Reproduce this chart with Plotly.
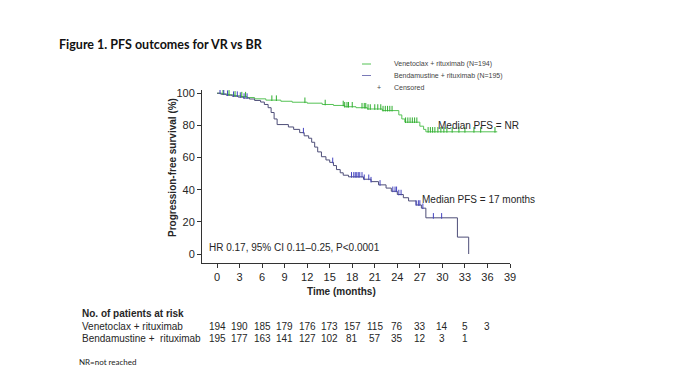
import plotly.graph_objects as go
import numpy as np

# ---------------- data ----------------
vr_time = [0, 0.7, 1.5, 2.3, 3.2, 4.0, 5.0, 6.5, 8.5, 10.0, 12.0, 14.0, 15.5, 17.0,
           18.5, 20.0, 22.0, 24.2, 24.6, 25.0, 27.0, 27.5, 27.8]
vr_surv = [100, 99.5, 99.0, 98.4, 97.9, 97.3, 96.5, 95.7, 95.0, 94.4, 93.8, 93.0, 92.4, 91.6,
           91.0, 90.2, 89.2, 86.5, 84.0, 82.0, 79.5, 77.5, 76.0]
vr_end = 37.3
vr_censor = [0.8, 1.6, 2.4, 3.3, 3.8, 7.3, 7.9, 11.7, 14.4, 16.8, 17.0, 17.3, 17.5, 18.0,
             19.3, 19.6, 19.8, 20.1, 20.4, 21.0, 21.4, 21.8, 22.1, 22.4, 22.7, 23.0, 23.3,
             25.1, 25.4, 25.7, 26.0, 26.3, 26.6, 28.1, 28.4, 28.7, 29.0, 29.4, 29.8, 30.2,
             30.6, 31.3, 32.2, 33.0, 34.2, 35.1, 37.0]

br_time = [0, 0.5, 1.2, 2.0, 2.8, 3.5, 4.3, 5.0, 5.8, 6.3, 6.8, 7.2, 7.6, 8.0, 9.5, 10.2,
           11.0, 11.6, 12.2, 12.6, 13.0, 13.4, 13.9, 14.5, 15.0, 15.5, 15.9, 16.4, 16.8,
           17.5, 19.5, 20.5, 21.5, 22.5, 23.2, 24.0, 24.8, 25.5, 26.5, 27.2, 27.8, 32.0, 33.5]
br_surv = [100, 99.4, 98.8, 98.2, 97.6, 97.0, 96.4, 95.5, 94.5, 93.0, 91.0, 88.0, 84.0, 80.5,
           79.0, 77.5, 75.5, 73.5, 72.0, 69.5, 66.5, 63.5, 60.5, 58.5, 57.0, 55.0, 52.5,
           50.5, 49.0, 48.0, 46.5, 45.0, 43.0, 41.0, 39.0, 37.0, 35.0, 33.0, 30.5, 28.5,
           22.5, 10.5, 0]
br_censor = [0.4, 0.9, 1.4, 2.2, 2.7, 3.1, 3.6, 4.0, 11.5, 15.4, 17.9, 18.2, 18.4, 18.6,
             18.8, 19.0, 19.3, 19.6, 20.2, 20.5, 21.7, 23.4, 23.7, 23.9, 24.2, 24.5, 26.5,
             26.8, 27.0, 27.4, 28.8, 29.9]

risk_months = [0, 3, 6, 9, 12, 15, 18, 21, 24, 27, 30, 33, 36]
vr_risk = [194, 190, 185, 179, 176, 173, 157, 115, 76, 33, 14, 5, 3]
br_risk = [195, 177, 163, 141, 127, 102, 81, 57, 35, 12, 3, 1]

x_ticks = list(range(0, 40, 3))
y_ticks = [0, 20, 40, 60, 80, 100]

# ---------------- styling ----------------
OFF = 8  # page body margin
W, H = 682, 375
L, T = 202 - OFF, 90 - OFF
R, B = W - (510 - OFF), H - (263 - OFF)
PW, PH = W - L - R, H - T - B
GREEN_LINE = "#55c255"
GREEN_MARK = "#2fae2f"
BLUE_LINE = "#4e4e78"
BLUE_MARK = "#4444c0"
TXT = "#262626"
FONT = "Liberation Sans, Arial, sans-serif"


def px_x(px):
    return (px - OFF - L) / PW


def px_y(py):
    return (H - B - (py - OFF)) / PH


def step_val(times, surv, t):
    idx = np.searchsorted(np.array(times), t, side="right") - 1
    return surv[max(idx, 0)]


fig = go.Figure()

fig.add_trace(go.Scatter(x=vr_time + [vr_end], y=vr_surv + [vr_surv[-1]], mode="lines",
                         line=dict(color=GREEN_LINE, width=1, shape="hv"), hoverinfo="skip"))
fig.add_trace(go.Scatter(x=br_time, y=br_surv, mode="lines",
                         line=dict(color=BLUE_LINE, width=1, shape="hv"), hoverinfo="skip"))

vr_cy = [step_val(vr_time, vr_surv, t) + 1.2 for t in vr_censor]
br_cy = [step_val(br_time, br_surv, t) + 1.2 for t in br_censor]
fig.add_trace(go.Scatter(x=vr_censor, y=vr_cy, mode="markers",
                         marker=dict(symbol="line-ns", size=4, line=dict(color=GREEN_MARK, width=1)),
                         hoverinfo="skip"))
fig.add_trace(go.Scatter(x=br_censor, y=br_cy, mode="markers",
                         marker=dict(symbol="line-ns", size=4, line=dict(color=BLUE_MARK, width=1)),
                         hoverinfo="skip"))

ann = []
# title
ann.append(dict(text="<b>Figure 1. PFS outcomes for VR vs BR</b>", x=px_x(57), y=px_y(44),
                xref="paper", yref="paper", xanchor="left", yanchor="middle", showarrow=False,
                font=dict(family="Lato, Carlito, sans-serif", size=12.5, color="#111")))
# axis titles
ann.append(dict(text="<b>Progression-free survival (%)</b>", x=px_x(172), y=px_y(168),
                xref="paper", yref="paper", xanchor="center", yanchor="middle", textangle=-90,
                showarrow=False, font=dict(family=FONT, size=10, color=TXT)))
ann.append(dict(text="<b>Time (months)</b>", x=px_x(341), y=px_y(291),
                xref="paper", yref="paper", xanchor="center", yanchor="middle",
                showarrow=False, font=dict(family=FONT, size=10, color=TXT)))
# in-plot labels
ann.append(dict(text="Median PFS = NR", x=px_x(436), y=px_y(125), xref="paper", yref="paper",
                xanchor="left", yanchor="middle", showarrow=False,
                font=dict(family=FONT, size=10, color=TXT)))
ann.append(dict(text="Median PFS = 17 months", x=px_x(420), y=px_y(199), xref="paper", yref="paper",
                xanchor="left", yanchor="middle", showarrow=False,
                font=dict(family=FONT, size=10, color=TXT)))
ann.append(dict(text="HR 0.17, 95% CI 0.11–0.25, P<0.0001", x=px_x(207), y=px_y(247),
                xref="paper", yref="paper", xanchor="left", yanchor="middle", showarrow=False,
                font=dict(family=FONT, size=10, color=TXT)))
# legend
legend_rows = [("Venetoclax + rituximab (N=194)", GREEN_LINE, 64),
               ("Bendamustine + rituximab (N=195)", "#7a7ab8", 75.5)]
shapes = []
for label, col, yy in legend_rows:
    shapes.append(dict(type="line", xref="paper", yref="paper", x0=px_x(362), x1=px_x(371),
                       y0=px_y(yy), y1=px_y(yy), line=dict(color=col, width=1)))
    ann.append(dict(text=label, x=px_x(392), y=px_y(yy), xref="paper", yref="paper",
                    xanchor="left", yanchor="middle", showarrow=False,
                    font=dict(family=FONT, size=7, color="#444")))
ann.append(dict(text="+", x=px_x(379), y=px_y(87), xref="paper", yref="paper",
                xanchor="center", yanchor="middle", showarrow=False,
                font=dict(family=FONT, size=7, color="#444")))
ann.append(dict(text="Censored", x=px_x(392), y=px_y(87), xref="paper", yref="paper",
                xanchor="left", yanchor="middle", showarrow=False,
                font=dict(family=FONT, size=7, color="#444")))
# risk table
ann.append(dict(text="<b>No. of patients at risk</b>", x=px_x(80), y=px_y(313), xref="paper",
                yref="paper", xanchor="left", yanchor="middle", showarrow=False,
                font=dict(family=FONT, size=10, color=TXT)))
for label, vals, yy in [("Venetoclax + rituximab", vr_risk, 326),
                        ("Bendamustine +  rituximab", br_risk, 338)]:
    ann.append(dict(text=label, x=px_x(80), y=px_y(yy), xref="paper", yref="paper",
                    xanchor="left", yanchor="middle", showarrow=False,
                    font=dict(family=FONT, size=10, color=TXT)))
    for m, v in zip(risk_months, vals):
        ann.append(dict(text=str(v), x=m, y=px_y(yy), xref="x", yref="paper",
                        xanchor="center", yanchor="middle", showarrow=False,
                        font=dict(family=FONT, size=10, color=TXT)))
ann.append(dict(text="NR=not reached", x=px_x(77), y=px_y(362), xref="paper", yref="paper",
                xanchor="left", yanchor="middle", showarrow=False,
                font=dict(family="Lato, Carlito, sans-serif", size=8, color="#222")))

fig.update_layout(
    width=W, height=H, margin=dict(l=L, r=R, t=T, b=B),
    paper_bgcolor="white", plot_bgcolor="white", showlegend=False,
    annotations=ann, shapes=shapes,
    font=dict(family=FONT, size=11, color=TXT),
)
fig.update_xaxes(range=[-2.0, 39.0], tickvals=x_ticks, showgrid=False, zeroline=False,
                 showline=True, linecolor="#333", linewidth=1, ticks="outside", ticklen=4,
                 tickcolor="#333", tickfont=dict(size=11, color=TXT, family=FONT))
fig.update_yaxes(range=[-5.6, 102], tickvals=y_ticks, showgrid=False, zeroline=False,
                 showline=True, linecolor="#333", linewidth=1, ticks="outside", ticklen=4,
                 tickcolor="#333", tickfont=dict(size=11, color=TXT, family=FONT))

fig.write_html("out.html")
